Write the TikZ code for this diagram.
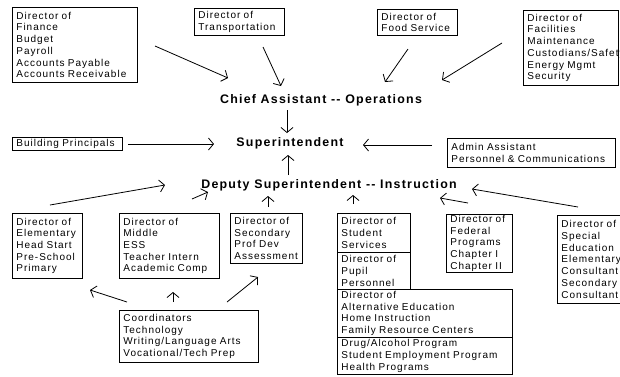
\documentclass[tikz,border=0pt]{standalone}
\usepackage{fontspec}
\newfontfamily\boxfont{Liberation Sans}[LetterSpace=10]
\newfontfamily\headfont{Liberation Sans}[LetterSpace=10]
\usetikzlibrary{arrows.meta}
\begin{document}
\begin{tikzpicture}[x=1pt,y=-1pt,
  box/.style={draw, line width=0.8pt, anchor=north west, align=left,
    inner xsep=4pt, inner ysep=0pt, font=\boxfont\fontsize{10}{11.7}\selectfont},
  head/.style={font=\headfont\bfseries\fontsize{12.4}{14}\selectfont, inner sep=0pt},
  arr/.style={line width=0.8pt, -{Straight Barb[length=5pt,width=12pt]}}]
\useasboundingbox (0,0) rectangle (620,376);
\clip (0,0) rectangle (620,376);
% top boxes
\node[box, text width=117pt, minimum height=75pt] (fin) at (12,7)
  {Director of\\Finance\\Budget\\Payroll\\Accounts Payable\\Accounts Receivable};
\node[box, text width=82pt, minimum height=27pt] (trans) at (194,8)
  {Director of\\Transportation};
\node[box, text width=72pt, minimum height=26pt] (food) at (377,9)
  {Director of\\Food Service};
\node[box, text width=87pt, minimum height=75pt] (fac) at (523,10)
  {Director of\\Facilities\\Maintenance\\Custodians/Safety\\Energy Mgmt\\Security};
% headings
\node[head] (chief) at (321,100) {Chief Assistant -{}- Operations};
\node[head] (sup) at (290,143) {Superintendent};
\node[head] (dep) at (329,185) {Deputy Superintendent -{}- Instruction};
% middle boxes
\node[box, text width=102pt, minimum height=13pt] (bp) at (12,137)
  {Building Principals};
\node[box, text width=160pt, minimum height=29pt] (admin) at (447,138)
  {Admin Assistant\\Personnel \& Communications};
% lower boxes
\node[box, text width=62pt, minimum height=65pt] (elem) at (12,213)
  {Director of\\Elementary\\Head Start\\Pre-School\\Primary};
\node[box, text width=92pt, minimum height=65pt] (mid) at (119,213)
  {Director of\\Middle\\ESS\\Teacher Intern\\Academic Comp};
\node[box, text width=64pt, minimum height=50pt] (sec) at (230,213)
  {Director of\\Secondary\\Prof Dev\\Assessment};
\node[box, text width=65pt, minimum height=39pt] (stu) at (337,213)
  {Director of\\Student\\Services};
\node[box, text width=65pt, minimum height=37pt] (pup) at (337,252)
  {Director of\\Pupil\\Personnel};
\node[box, text width=167pt, minimum height=48pt] (alt) at (337,289)
  {Director of\\Alternative Education\\Home Instruction\\Family Resource Centers};
\node[box, text width=167pt, minimum height=37pt] (drug) at (337,337)
  {Drug/Alcohol Program\\Student Employment Program\\Health Programs};
\node[box, text width=58pt, minimum height=58pt] (fed) at (446,214)
  {Director of\\Federal\\Programs\\Chapter I\\Chapter II};
\node[box, text width=62pt, minimum height=88pt] (spe) at (557,215)
  {Director of\\Special\\Education\\Elementary\\Consultant\\Secondary\\Consultant};
\node[box, text width=131pt, minimum height=52pt] (coord) at (119,310)
  {Coordinators\\Technology\\Writing/Language Arts\\Vocational/Tech Prep};
% arrow end points
\coordinate (finA) at (155,46);   \coordinate (finB) at (228,78);
\coordinate (traA) at (263,47);   \coordinate (traB) at (281,86);
\coordinate (fooA) at (408,49);   \coordinate (fooB) at (385,82);
\coordinate (facA) at (502,43);   \coordinate (facB) at (442,80);
\coordinate (chiA) at (287,110);  \coordinate (chiB) at (287,133);
\coordinate (bpA) at (128,144);   \coordinate (bpB) at (214,144);
\coordinate (admA) at (432,145);  \coordinate (admB) at (363,145);
\coordinate (depA) at (288,175);  \coordinate (depB) at (288,155);
\coordinate (eleA) at (50,205);   \coordinate (eleB) at (165,185);
\coordinate (midA) at (192,199);  \coordinate (midB) at (208,192);
\coordinate (secA) at (268,207);  \coordinate (secB) at (268,196);
\coordinate (stuA) at (353,204);  \coordinate (stuB) at (353,195);
\coordinate (fedA) at (468,203);  \coordinate (fedB) at (440,198);
\coordinate (speA) at (578,207);  \coordinate (speB) at (472,189);
\coordinate (coA) at (127,302);   \coordinate (coB) at (90,290);
\coordinate (cmA) at (173,302);   \coordinate (cmB) at (173,292);
\coordinate (csA) at (227,302);   \coordinate (csB) at (258,277);
% connectors
\draw[arr] (finA) -- (finB);
\draw[arr] (traA) -- (traB);
\draw[arr] (fooA) -- (fooB);
\draw[arr] (facA) -- (facB);
\draw[arr] (chiA) -- (chiB);
\draw[arr] (bpA) -- (bpB);
\draw[arr] (admA) -- (admB);
\draw[arr] (depA) -- (depB);
\draw[arr] (eleA) -- (eleB);
\draw[arr] (midA) -- (midB);
\draw[arr] (secA) -- (secB);
\draw[arr] (stuA) -- (stuB);
\draw[arr] (fedA) -- (fedB);
\draw[arr] (speA) -- (speB);
\draw[arr] (coA) -- (coB);
\draw[arr] (cmA) -- (cmB);
\draw[arr] (csA) -- (csB);
\end{tikzpicture}
\end{document}
